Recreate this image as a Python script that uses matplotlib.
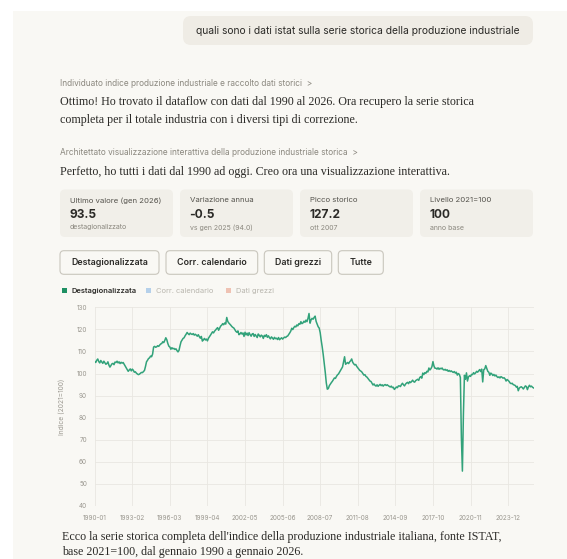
import matplotlib
matplotlib.use("Agg")
import matplotlib.pyplot as plt
from matplotlib.patches import FancyBboxPatch, Rectangle
import numpy as np
import pandas as pd

# --- data (monthly, seasonally adjusted, 2021=100) ---
ipi_1990s = [
    105.5, 105.0, 106.0, 106.6, 105.4, 104.8, 105.9, 105.2, 104.6, 105.6, 104.9, 104.2,
    104.5, 105.3, 103.8, 102.9, 103.7, 104.4, 104.6, 104.0, 105.2, 105.0, 105.6, 104.8,
    105.3, 104.5, 105.1, 104.7, 105.0, 104.2, 103.5, 102.6, 101.8, 101.0, 101.6, 102.1,
    101.2, 102.0, 101.5, 100.6, 100.8, 100.2, 99.8, 99.5, 99.7, 100.1, 100.5, 100.4,
    100.9, 101.4, 103.2, 105.3, 106.0, 106.8, 107.1, 107.9, 107.6, 108.8, 112.0, 112.3,
    111.9, 112.1, 112.6, 112.3, 112.9, 113.4, 113.6, 114.4, 114.0, 115.0, 116.2, 115.3,
    113.6, 112.4, 112.0, 111.0, 111.7, 111.2, 111.4, 110.9, 111.2, 110.4, 109.8, 110.5,
    112.6, 114.4, 115.2, 115.9, 116.2, 117.1, 117.8, 118.6, 118.0, 117.6, 118.3, 117.9,
    117.7, 118.1, 117.4, 117.8, 117.4, 116.9, 117.6, 116.7, 116.0, 116.8, 114.7, 115.2,
    115.9, 115.2, 115.6, 114.8, 116.0, 116.7, 117.4, 118.2, 118.9, 118.4, 119.2, 119.7,
]
ipi_2000s = [
    120.3, 120.8, 119.6, 120.6, 121.5, 121.9, 122.6, 122.1, 122.9, 122.4, 125.4, 123.6,
    122.9, 122.4, 121.9, 121.3, 120.9, 120.6, 119.8, 119.1, 118.7, 119.3, 117.6, 117.9,
    118.6, 117.9, 118.4, 116.8, 118.7, 117.5, 118.3, 117.2, 118.5, 117.6, 116.9, 117.9,
    118.1, 116.8, 117.7, 117.0, 116.3, 117.9, 117.3, 116.6, 117.4, 117.0, 115.9, 117.3,
    116.8, 117.6, 116.4, 117.1, 116.3, 115.7, 116.6, 116.1, 115.5, 116.4, 115.8, 116.0,
    115.4, 116.3, 115.3, 115.8, 116.2, 115.6, 116.1, 116.5, 116.3, 116.8, 117.0, 117.7,
    118.4, 119.2, 120.5, 119.9, 120.8, 121.4, 121.1, 122.0, 121.6, 122.6, 122.3, 123.5,
    122.6, 122.9, 123.7, 123.2, 124.2, 123.5, 125.0, 127.2, 122.8, 124.3, 125.0, 124.6,
    125.4, 126.0, 123.6, 122.4, 121.2, 120.6, 118.5, 115.0, 112.0, 108.5, 104.5, 100.5,
    95.8, 92.9, 93.2, 94.5, 95.2, 95.9, 96.5, 97.3, 98.0, 97.8, 98.7, 99.4,
]
ipi_2010s = [
    99.8, 100.6, 101.4, 102.3, 103.0, 105.3, 107.6, 104.2, 104.6, 105.0, 104.5, 105.3,
    105.8, 106.6, 105.1, 104.4, 103.9, 104.1, 103.2, 102.6, 102.0, 101.4, 101.1, 100.7,
    100.0, 99.3, 99.5, 98.7, 98.4, 97.8, 97.2, 96.6, 96.4, 95.6, 94.8, 95.3,
    94.6, 94.3, 94.9, 94.2, 94.7, 95.1, 94.5, 94.9, 94.3, 94.8, 95.0, 94.6,
    94.9, 94.5, 94.2, 93.9, 94.3, 93.6, 93.8, 92.8, 93.3, 93.9, 93.6, 94.4,
    94.4, 94.1, 95.0, 95.6, 94.9, 94.4, 95.2, 95.7, 96.0, 95.4, 96.3, 95.9,
    96.4, 97.0, 96.3, 96.1, 96.8, 97.1, 97.4, 96.9, 98.2, 98.6, 97.9, 100.2,
    99.5, 100.4, 100.1, 101.0, 100.7, 102.5, 101.6, 102.2, 103.1, 105.4, 103.4, 102.4,
    102.4, 102.0, 102.6, 101.9, 102.4, 102.1, 102.5, 101.8, 101.6, 101.9, 101.4, 101.7,
    101.0, 101.4, 100.9, 101.2, 100.8, 100.5, 100.9, 100.2, 100.6, 99.3, 100.0, 99.6,
]
ipi_2020s = [
    98.2, 71.0, 55.8, 81.5, 99.2, 97.4, 100.3, 96.6, 98.5, 99.0, 98.7, 99.6,
    99.5, 100.4, 99.8, 100.3, 101.0, 100.6, 101.2, 101.8, 100.9, 102.0, 96.2, 101.7,
    102.1, 103.6, 102.3, 101.0, 100.6, 99.2, 100.2, 99.8, 99.1, 99.6, 98.9, 99.3,
    98.6, 98.2, 98.5, 98.0, 98.6, 98.3, 97.9, 98.1, 97.6, 96.6, 97.3, 96.9,
    96.4, 95.7, 95.4, 95.6, 95.0, 94.8, 94.6, 93.9, 94.2, 92.2, 93.4, 93.8,
    94.0, 93.6, 93.0, 93.7, 94.4, 94.1, 92.7, 93.9, 94.7, 94.0, 94.3, 93.8,
    93.5,
]
months = pd.period_range("1990-01", "2026-01", freq="M").strftime("%Y-%m").tolist()

card_titles = ["Ultimo valore (gen 2026)", "Variazione annua", "Picco storico", "Livello 2021=100"]
card_values = ["93.5", "-0.5", "127.2", "100"]
card_notes = ["destagionalizzato", "vs gen 2025 (94.0)", "ott 2007", "anno base"]
buttons = ["Destagionalizzata", "Corr. calendario", "Dati grezzi", "Tutte"]
legend_labels = ["Destagionalizzata", "Corr. calendario", "Dati grezzi"]

W, H = 567, 559
BG = "#f9f8f4"
CARD = "#f1efe9"
INK = "#2b2a27"
MUTED = "#8b887f"
GREEN = "#32a27a"
SANS = ["Inter", "DejaVu Sans"]
SERIF = ["Liberation Serif", "DejaVu Serif"]
SERIF_SIZE = 8.65

fig = plt.figure(figsize=(W / 100, H / 100), dpi=100)
fig.patch.set_facecolor("white")

# full-figure axes in pixel units (y down) for the chat UI around the chart
ui = fig.add_axes([0, 0, 1, 1])
ui.set_xlim(0, W)
ui.set_ylim(H, 0)
ui.axis("off")
ui.add_patch(Rectangle((13, 11), W - 13, H - 11, color=BG, lw=0))


def box(x, y, w, h, fc, ec="none", r=6, lw=0.8):
    ui.add_patch(FancyBboxPatch((x, y), w, h, boxstyle=f"round,pad=0,rounding_size={r}",
                                fc=fc, ec=ec, lw=lw))


def txt(x, y, s, size, color=INK, family=SANS, weight="normal", ha="left"):
    ui.text(x, y, s, fontsize=size, color=color, family=family, fontweight=weight,
            ha=ha, va="center")


# user bubble
box(183, 16, 350, 29, "#efece5", r=8)
txt(358, 30.5, "quali sono i dati istat sulla serie storica della produzione industriale",
    7.4, ha="center")

# assistant text
txt(60, 84, "Individuato indice produzione industriale e raccolto dati storici  >", 6.0, MUTED)
txt(60, 102.5, "Ottimo! Ho trovato il dataflow con dati dal 1990 al 2026. Ora recupero la serie storica",
    SERIF_SIZE, family=SERIF)
txt(60, 120, "completa per il totale industria con i diversi tipi di correzione.", SERIF_SIZE, family=SERIF)
txt(60, 152.5, "Architettato visualizzazione interattiva della produzione industriale storica  >", 6.0, MUTED)
txt(60, 171.5, "Perfetto, ho tutti i dati dal 1990 ad oggi. Creo ora una visualizzazione interattiva.",
    SERIF_SIZE, family=SERIF)

# stat cards
for i, (t, v, n) in enumerate(zip(card_titles, card_values, card_notes)):
    cx = 60 + i * 120
    box(cx, 189.5, 113, 47.5, CARD, r=5)
    txt(cx + 9.5, 200.5, t, 5.6, "#55534d")
    txt(cx + 9.5, 214.5, v, 8.6, INK, weight="bold")
    txt(cx + 9.5, 227.5, n, 5.0, MUTED)

# toggle buttons
btn_x = [(60, 159), (166, 257.7), (264.3, 331.7), (338.3, 383.3)]
for (x0, x1), label in zip(btn_x, buttons):
    box(x0, 250.7, x1 - x0, 23.6, BG, ec="#c9c6bd", r=4, lw=0.8)
    txt((x0 + x1) / 2, 262.5, label, 6.4, INK, weight="semibold", ha="center")

# legend (only the seasonally adjusted series is visible)
leg_colors = ["#1f9063", "#b5d0ea", "#efc2b3"]
leg_text = [INK, "#b9b6ae", "#b9b6ae"]
leg_x = [62, 146, 226]
for lx, c, tc, label in zip(leg_x, leg_colors, leg_text, legend_labels):
    ui.add_patch(Rectangle((lx, 288), 5, 5, color=c, lw=0))
    txt(lx + 10, 290.7, label, 5.4, tc, weight="semibold" if tc == INK else "normal")

# closing text
txt(62, 537, "Ecco la serie storica completa dell'indice della produzione industriale italiana, fonte ISTAT,",
    SERIF_SIZE, family=SERIF)
txt(62, 552, "base 2021=100, dal gennaio 1990 a gennaio 2026.", SERIF_SIZE, family=SERIF)

# --- the chart ---
left, right, top, bottom = 94.7, 533.5, 307.3, 506.0
ax = fig.add_axes([left / W, 1 - bottom / H, (right - left) / W, (bottom - top) / H])
ax.set_facecolor("none")
values = ipi_1990s + ipi_2000s + ipi_2010s + ipi_2020s
x = np.arange(len(values))
ax.plot(x, values, color=GREEN, lw=1.1, solid_joinstyle="round")
ax.set_xlim(0, len(values) - 1)
ax.set_ylim(40, 130)
ax.set_yticks(range(40, 131, 10))
tick_pos = list(range(0, len(months), 37))
ax.set_xticks(tick_pos)
ax.set_xticklabels([months[i] for i in tick_pos])
ax.tick_params(axis="both", length=0, labelsize=4.6, labelcolor="#9a978f", labelfontfamily="Inter")
ax.tick_params(axis="y", pad=5.5)
ax.tick_params(axis="x", pad=6.5)
ax.grid(True, color="#e9e7e1", lw=0.6)
ax.set_axisbelow(True)
for s in ax.spines.values():
    s.set_visible(False)
ax.set_ylabel("Indice (2021=100)", fontsize=4.8, color="#9a978f", family=SANS, labelpad=8)

fig.savefig("out.png", dpi=100, facecolor=fig.get_facecolor())
